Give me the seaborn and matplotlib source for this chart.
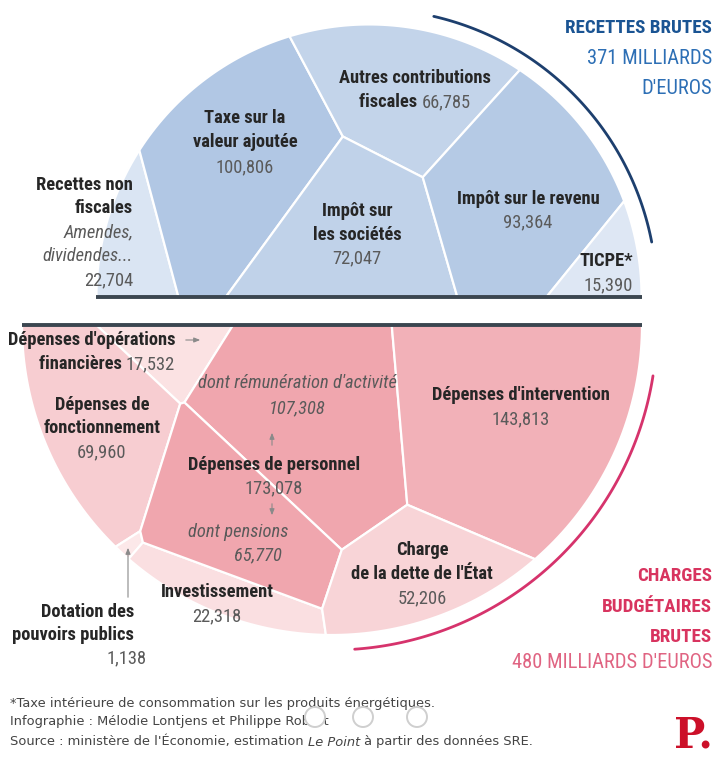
import numpy as np
import matplotlib
matplotlib.use("Agg")
import matplotlib.pyplot as plt
from matplotlib.patches import Polygon, Circle
from matplotlib.colors import Normalize
import seaborn as sns

sns.set_theme(style="white")
plt.rcParams['font.family'] = ['Roboto Condensed', 'Liberation Sans Narrow', 'Roboto', 'DejaVu Sans']

# --- data: budget de l'Etat, milliards d'euros ---
rec_names = ["Recettes non fiscales", "Taxe sur la valeur ajoutée", "Autres contributions fiscales",
             "Impôt sur les sociétés", "Impôt sur le revenu", "TICPE*"]
rec_values = [22.704, 100.806, 66.785, 72.047, 93.364, 15.390]

dep_names = ["Dépenses d'opérations financières", "Dépenses de fonctionnement",
             "Dotation des pouvoirs publics", "Investissement",
             "dont rémunération d'activité", "dont pensions",
             "Dépenses d'intervention", "Charge de la dette de l'État"]
dep_values = [17.532, 69.960, 1.138, 22.318, 107.308, 65.770, 143.813, 52.206]
# rémunération + pensions = dépenses de personnel
dep_group = ["fin", "fonc", "dot", "inv", "pers", "pers", "interv", "dette"]

# --- layout (pixels) ---
W, H = 718, 757
top_c, bot_c = (369, 297), (332, 325)
r_bot = 310
r_top = r_bot * np.sqrt(sum(rec_values) / sum(dep_values))

rec_seeds = [(110, 230), (260, 190), (420, 105), (345, 252), (525, 200), (615, 273)]
dep_seeds = [(190, 340), (70, 468), (122, 550), (205, 622), (330, 428), (242, 522),
             (515, 412), (440, 588)]


def fmt(v):
    return f"{v:.3f}".replace(".", ",")


def half_disc(c, r, up):
    th = np.linspace(0, np.pi, 160)
    s = -1 if up else 1
    return [(c[0] + r * np.cos(t), c[1] + s * r * np.sin(t)) for t in th]


def clip(poly, a, b):
    out = []
    n = len(poly)
    for k in range(n):
        p, q = poly[k], poly[(k + 1) % n]
        fp = a[0] * p[0] + a[1] * p[1] - b
        fq = a[0] * q[0] + a[1] * q[1] - b
        if fp <= 0:
            out.append(p)
        if fp * fq < 0:
            t = fp / (fp - fq)
            out.append((p[0] + t * (q[0] - p[0]), p[1] + t * (q[1] - p[1])))
    return out


def area(poly):
    if len(poly) < 3:
        return 0.0
    x = np.array([p[0] for p in poly])
    y = np.array([p[1] for p in poly])
    return 0.5 * abs(np.dot(x, np.roll(y, -1)) - np.dot(y, np.roll(x, -1)))


def power_cells(seeds, w, boundary):
    P = np.array(seeds, float)
    cells = []
    for i in range(len(P)):
        poly = boundary
        for j in range(len(P)):
            if i == j:
                continue
            a = 2 * (P[j] - P[i])
            b = P[j] @ P[j] - P[i] @ P[i] + w[i] - w[j]
            poly = clip(poly, a, b)
            if not poly:
                break
        cells.append(poly)
    return cells


def voronoi_treemap(seeds, values, boundary, n_iter=500):
    values = np.array(values, float)
    target = area(boundary) * values / values.sum()
    w = np.zeros(len(seeds))
    for _ in range(n_iter):
        cells = power_cells(seeds, w, boundary)
        areas = np.array([area(c) for c in cells])
        w += 0.3 * (target - areas)
    return cells


rec_cells = voronoi_treemap(rec_seeds, rec_values, half_disc(top_c, r_top, True))
dep_cells = voronoi_treemap(dep_seeds, dep_values, half_disc(bot_c, r_bot, False))

group_tot = {}
for g, v in zip(dep_group, dep_values):
    group_tot[g] = group_tot.get(g, 0) + v
dep_color_vals = [group_tot[g] for g in dep_group]

blue_cmap = sns.blend_palette(["#e6edf7", "#b1c7e4"], as_cmap=True)
pink_cmap = sns.blend_palette(["#fce8e9", "#f0a6ae"], as_cmap=True)
bnorm = Normalize(0, max(rec_values))
pnorm = Normalize(0, max(dep_color_vals))

fig = plt.figure(figsize=(W / 100, H / 100), dpi=100)
ax = fig.add_axes([0, 0, 1, 1])
ax.set_xlim(0, W)
ax.set_ylim(H, 0)
ax.axis("off")

for cell, v in zip(rec_cells, rec_values):
    if len(cell) > 2:
        ax.add_patch(Polygon(cell, closed=True, fc=blue_cmap(bnorm(v)), ec="white", lw=1.6))
for cell, v in zip(dep_cells, dep_color_vals):
    if len(cell) > 2:
        ax.add_patch(Polygon(cell, closed=True, fc=pink_cmap(pnorm(v)), ec="white", lw=1.6))

# base lines
ax.plot([top_c[0] - r_top, top_c[0] + r_top], [top_c[1], top_c[1]], color="#3b4650", lw=2.8,
        solid_capstyle="butt")
ax.plot([bot_c[0] - r_bot, bot_c[0] + r_bot], [bot_c[1], bot_c[1]], color="#3b4650", lw=2.8,
        solid_capstyle="butt")

# outer arcs
th = np.radians(np.linspace(11, 77, 120))
ax.plot(top_c[0] + 288 * np.cos(th), top_c[1] - 288 * np.sin(th), color="#1d3f6e", lw=2)
th = np.radians(np.linspace(9, 86, 120))
ax.plot(bot_c[0] + 325 * np.cos(th), bot_c[1] + 325 * np.sin(th), color="#d6336c", lw=2)

renderer = fig.canvas.get_renderer()
DARK, GREY = "#262626", "#5a5a5a"


def text_width(s, size, **kw):
    t = ax.text(0, 0, s, fontsize=size, **kw)
    w = t.get_window_extent(renderer).width
    t.remove()
    return w


# fit font sizes to the widths seen in the reference
LBL = min(14.0, 10 * 172 / text_width("Dépenses de personnel", 10, weight="bold"))
TTL_B = min(17.0, 10 * 146 / text_width("RECETTES BRUTES", 10, weight="bold"))
TTL_R = min(17.0, 10 * 200 / text_width("480 MILLIARDS D'EUROS", 10))


def row(x, y, parts, ha="center", size=None):
    size = size or LBL
    texts, widths = [], []
    for s, kw in parts:
        kw = dict(kw)
        kw.setdefault("color", DARK)
        t = ax.text(0, y, s, fontsize=size, va="center", ha="left", **kw)
        widths.append(t.get_window_extent(renderer).width)
        texts.append(t)
    total = sum(widths)
    x0 = x - total / 2 if ha == "center" else (x - total if ha == "right" else x)
    for t, w in zip(texts, widths):
        t.set_x(x0)
        x0 += w


B = {"weight": "bold"}
N = {"color": GREY}
I = {"style": "italic", "color": GREY}

# top labels
row(133, 185, [("Recettes non", B)], "right")
row(133, 208, [("fiscales", B)], "right")
row(133, 232, [("Amendes,", I)], "right")
row(133, 256, [("dividendes...", I)], "right")
row(133, 280, [(fmt(rec_values[0]), N)], "right")
row(245, 118, [("Taxe sur la", B)])
row(245, 142, [("valeur ajoutée", B)])
row(245, 167, [(fmt(rec_values[1]), N)])
row(415, 78, [("Autres contributions", B)])
row(415, 102, [("fiscales ", B), (fmt(rec_values[2]), N)])
row(357, 211, [("Impôt sur", B)])
row(357, 235, [("les sociétés", B)])
row(357, 258, [(fmt(rec_values[3]), N)])
row(528, 199, [("Impôt sur le revenu", B)])
row(528, 222, [(fmt(rec_values[4]), N)])
row(633, 261, [("TICPE*", B)], "right")
row(633, 285, [(fmt(rec_values[5]), N)], "right")

# bottom labels
row(175, 340, [("Dépenses d'opérations", B)], "right")
row(175, 364, [("financières ", B), (fmt(dep_values[0]), N)], "right")
row(102, 405, [("Dépenses de", B)])
row(102, 428, [("fonctionnement", B)])
row(102, 452, [(fmt(dep_values[1]), N)])
row(297, 383, [("dont rémunération d'activité", I)])
row(297, 408, [(fmt(dep_values[4]), I)])
row(274, 465, [("Dépenses de personnel", B)])
row(274, 488, [(fmt(group_tot["pers"]), N)])
row(238, 532, [("dont pensions", I)])
row(258, 555, [(fmt(dep_values[5]), I)])
row(521, 395, [("Dépenses d'intervention", B)])
row(521, 419, [(fmt(dep_values[6]), N)])
row(422, 550, [("Charge", B)])
row(422, 574, [("de la dette de l'État", B)])
row(422, 598, [(fmt(dep_values[7]), N)])
row(217, 592, [("Investissement", B)])
row(217, 616, [(fmt(dep_values[3]), N)])
row(134, 612, [("Dotation des", B)], "right")
row(134, 635, [("pouvoirs publics", B)], "right")
row(127, 658, [(fmt(dep_values[2]), N)])

arr = dict(arrowstyle="-|>,head_length=0.3,head_width=0.12", color="#8a8a8a", lw=0.8)
ax.annotate("", xy=(203, 340), xytext=(183, 340), arrowprops=arr)
ax.annotate("", xy=(272, 430), xytext=(272, 448), arrowprops=arr)
ax.annotate("", xy=(272, 518), xytext=(272, 501), arrowprops=arr)
ax.annotate("", xy=(128, 545), xytext=(128, 600), arrowprops=arr)

# totals
rec_tot, dep_tot = round(sum(rec_values)), round(sum(dep_values))
ax.text(712, 28, "RECETTES BRUTES", ha="right", va="center", fontsize=TTL_B, weight="bold", color="#1a5493")
ax.text(712, 58, f"{rec_tot} MILLIARDS", ha="right", va="center", fontsize=TTL_R, color="#2d6fb5")
ax.text(712, 88, "D'EUROS", ha="right", va="center", fontsize=TTL_R, color="#2d6fb5")
ax.text(712, 576, "CHARGES", ha="right", va="center", fontsize=TTL_B, weight="bold", color="#d8345f")
ax.text(712, 607, "BUDGÉTAIRES", ha="right", va="center", fontsize=TTL_B, weight="bold", color="#d8345f")
ax.text(712, 637, "BRUTES", ha="right", va="center", fontsize=TTL_B, weight="bold", color="#d8345f")
ax.text(712, 663, f"{dep_tot} MILLIARDS D'EUROS", ha="right", va="center", fontsize=TTL_R, color="#e06482")

# footer
FS = 9.4
ff = {"family": "DejaVu Sans", "fontsize": FS, "color": "#444444", "va": "center"}
ax.text(10, 703, "*Taxe intérieure de consommation sur les produits énergétiques.", **ff)
ax.text(10, 722, "Infographie : Mélodie Lontjens et Philippe Robert", **ff)
fs = {"family": "DejaVu Sans", "color": "#444444"}
row(10, 742, [("Source : ministère de l'Économie, estimation ", fs),
              ("Le Point", dict(fs, style="italic")),
              (" à partir des données SRE.", fs)], "left", size=FS)
for cx in (315, 363, 417):
    ax.add_patch(Circle((cx, 717), 10, fc="white", ec="#cfcfcf", lw=1.4, zorder=5))
ax.text(713, 748, "P.", ha="right", va="baseline", fontsize=30, weight="bold",
        family="DejaVu Serif", color="#cc1029")

fig.savefig("out.png", dpi=100)
